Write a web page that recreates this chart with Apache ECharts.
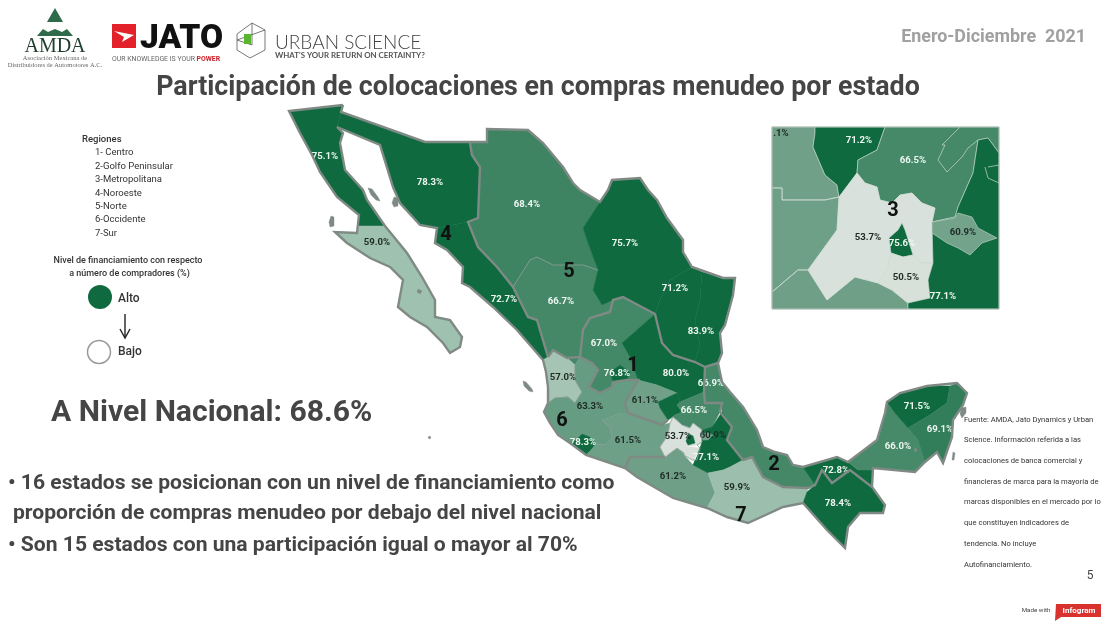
<!DOCTYPE html>
<html><head><meta charset="utf-8">
<style>html,body{margin:0;padding:0;background:#fff}#c{width:1117px;height:626px}</style>
<script src="https://cdn.jsdelivr.net/npm/echarts@6/dist/echarts.min.js"></script>
</head><body><div id="c"></div>
<script>
// ---- data ----
const stateNames = ['Baja California','Baja California Sur','Sonora','Sinaloa','Chihuahua','Durango','Coahuila','Nuevo León','Tamaulipas','Zacatecas','Aguascalientes','San Luis Potosí','Nayarit','Jalisco','Colima','Michoacán','Guanajuato','Querétaro','Hidalgo','Veracruz','Guerrero','Estado de México','Ciudad de México','Morelos','Puebla','Tlaxcala','Oaxaca','Tabasco','Chiapas','Campeche','Yucatán','Quintana Roo'];
const stateValues = [75.1,59.0,78.3,72.7,68.4,66.7,75.7,71.2,83.9,67.0,76.8,80.0,57.0,63.3,78.3,61.5,61.1,71.2,66.5,66.9,61.2,53.7,75.6,50.5,77.1,60.9,59.9,72.8,78.4,66.0,71.5,69.1];
const unlabeledOnMain = ['Querétaro','Ciudad de México','Morelos'];
const insetNames = ['Guanajuato','Michoacán','Guerrero','Querétaro','Hidalgo','Estado de México','Ciudad de México','Morelos','Puebla','Tlaxcala'];
const regionList = ['1- Centro','2-Golfo Peninsular','3-Metropolitana','4-Noroeste','5-Norte','6-Occidente','7-Sur'];
const regionNumbers = [['1',633,364],['2',774,463],['3',893,209],['4',446,233],['5',569,270],['6',562,419],['7',741,514]];
const sourceLines = ['Fuente: AMDA, Jato Dynamics y Urban','Science. Información referida a las','colocaciones de banca comercial y','financieras de marca para la mayoría de','marcas disponibles en el mercado por lo','que constituyen indicadores de','tendencia. No incluye','Autofinanciamiento.'];
const colorStops = [[50,'#d8e0da'],[54,'#d8e1db'],[57,'#a6c4b4'],[60,'#9cbfad'],[61,'#70a088'],[63.3,'#659c82'],[66,'#478a6a'],[68.5,'#3e8463'],[71,'#0f6a3f'],[84,'#0f6a3f']];

// ---- map geometry (outlines of the states) ----
const outlines = {
'Baja California':[[289,111],[343,105],[341,112],[337,127],[343,133],[340,143],[345,170],[363,190],[367,200],[385,226],[359,226],[359,215],[337,197],[320,172],[312,155],[300,133]],
'Baja California Sur':[[359,226],[385,226],[407,253],[422,277],[435,300],[435,317],[450,320],[462,337],[460,347],[450,353],[443,343],[427,327],[410,317],[398,307],[403,280],[390,267],[370,258],[347,243],[335,232],[357,233]],
'Sonora':[[341,112],[425,142],[470,143],[472,155],[480,167],[478,218],[468,222],[437,228],[420,225],[400,203],[393,187],[380,145],[337,127]],
'Sinaloa':[[468,222],[478,247],[497,267],[513,287],[528,317],[537,320],[548,357],[543,360],[517,330],[493,307],[470,287],[462,283],[463,267],[447,250],[435,243],[437,228]],
'Chihuahua':[[470,143],[487,142],[487,129],[528,130],[543,143],[563,167],[573,183],[580,190],[600,202],[583,228],[588,243],[598,270],[583,265],[553,265],[537,257],[530,260],[513,287],[497,267],[478,247],[468,222],[478,218],[480,167],[472,155]],
'Durango':[[513,287],[530,260],[537,257],[553,265],[583,265],[598,270],[593,290],[602,305],[613,300],[610,312],[590,318],[583,330],[580,357],[575,365],[567,358],[553,350],[548,357],[537,320],[528,317]],
'Coahuila':[[583,228],[600,202],[608,190],[612,180],[640,178],[648,190],[657,200],[667,218],[683,240],[683,252],[692,267],[670,280],[660,300],[655,314],[623,297],[613,300],[602,305],[593,290],[598,270],[588,243]],
'Nuevo León':[[692,267],[702,272],[700,300],[695,320],[700,345],[695,362],[673,355],[662,343],[655,314],[660,300],[670,280]],
'Tamaulipas':[[702,272],[723,278],[735,278],[733,295],[725,325],[720,333],[722,353],[718,363],[705,367],[695,362],[700,345],[695,320],[700,300]],
'Zacatecas':[[613,300],[623,297],[655,314],[622,343],[630,357],[638,380],[627,380],[630,372],[620,365],[610,372],[613,382],[612,387],[600,393],[589,387],[598,370],[592,363],[580,357],[583,330],[590,318],[610,312]],
'Aguascalientes':[[610,372],[620,365],[630,372],[627,380],[613,382]],
'San Luis Potosí':[[655,314],[662,343],[673,355],[695,362],[705,367],[704,392],[680,402],[677,393],[657,385],[638,380],[630,357],[622,343]],
'Nayarit':[[543,360],[548,357],[553,350],[567,358],[575,365],[575,380],[582,392],[575,403],[568,397],[555,398],[548,403],[548,387],[546,372]],
'Jalisco':[[575,365],[580,357],[592,363],[598,370],[589,387],[600,393],[612,387],[613,382],[627,380],[638,380],[625,403],[628,413],[622,413],[602,420],[610,427],[612,438],[605,445],[596,444],[590,437],[582,434],[576,440],[570,443],[558,435],[550,423],[544,412],[548,403],[555,398],[568,397],[575,403],[582,392],[575,380]],
'Colima':[[582,434],[590,437],[596,444],[591,450],[586,455],[570,443],[576,440]],
'Michoacán':[[602,420],[622,413],[628,413],[648,420],[662,425],[670,423],[668,435],[660,447],[665,457],[655,457],[630,457],[625,468],[586,455],[591,450],[596,444],[605,445],[612,438],[610,427]],
'Guanajuato':[[638,380],[657,385],[677,393],[658,402],[660,408],[668,420],[662,425],[648,420],[628,413],[625,403]],
'Querétaro':[[658,402],[677,393],[680,402],[677,405],[682,412],[675,415],[668,420],[660,408]],
'Hidalgo':[[677,405],[680,402],[704,392],[705,403],[722,403],[720,412],[712,427],[702,430],[693,423],[690,428],[682,425],[673,417],[668,420],[675,415],[682,412]],
'Veracruz':[[718,363],[722,382],[730,392],[743,407],[757,430],[763,447],[775,452],[787,455],[793,465],[803,467],[815,485],[808,488],[783,487],[763,477],[752,457],[743,460],[727,440],[732,427],[722,412],[722,403],[705,403],[704,392],[705,367]],
'Guerrero':[[630,457],[655,457],[665,457],[677,448],[684,453],[684,455],[693,465],[708,473],[715,493],[707,508],[673,498],[637,477],[625,468]],
'Estado de México':[[673,417],[682,425],[690,428],[693,423],[702,430],[702,442],[697,445],[685,447],[684,453],[677,448],[665,457],[660,447],[668,435],[670,423]],
'Ciudad de México':[[689,434],[693,436],[695,443],[688,445],[686,441]],
'Morelos':[[685,447],[693,447],[700,448],[697,460],[692,460],[684,455]],
'Puebla':[[722,412],[732,427],[727,440],[743,460],[730,467],[723,470],[708,473],[693,465],[700,448],[702,442],[702,430],[712,427]],
'Tlaxcala':[[702,435],[707,432],[713,435],[708,440],[703,440]],
'Oaxaca':[[708,473],[723,470],[730,467],[743,460],[752,457],[763,477],[783,487],[808,488],[807,492],[803,503],[783,507],[770,513],[748,523],[727,517],[707,508],[715,493]],
'Tabasco':[[803,467],[837,457],[848,462],[858,470],[872,470],[872,487],[850,470],[832,483],[822,470],[815,485]],
'Chiapas':[[807,492],[815,485],[822,470],[832,483],[850,470],[872,487],[885,505],[883,513],[860,513],[848,527],[845,548],[827,530],[803,503]],
'Campeche':[[887,402],[895,413],[908,428],[918,440],[925,462],[915,472],[873,468],[872,470],[858,470],[848,462],[860,453],[877,440],[885,413]],
'Yucatán':[[887,402],[900,393],[927,386],[950,386],[947,403],[930,415],[908,428],[895,413]],
'Quintana Roo':[[930,415],[947,403],[950,386],[957,383],[967,393],[963,405],[953,420],[952,437],[943,463],[937,452],[925,462],[918,440],[908,428]]
};
const insetOutlines = {
'Guanajuato':[[772,127],[815,127],[815,133],[813,147],[825,175],[837,185],[839,197],[825,200],[798,200],[782,200],[782,188],[772,188]],
'Michoacán':[[772,188],[782,188],[782,200],[798,200],[825,200],[839,197],[837,230],[808,270],[798,270],[772,292]],
'Guerrero':[[772,292],[798,270],[808,270],[827,300],[855,277],[878,283],[892,290],[908,303],[908,309],[772,309]],
'Querétaro':[[815,127],[885,127],[877,150],[858,160],[857,173],[839,197],[837,185],[825,175],[813,147],[815,133]],
'Hidalgo':[[885,127],[999,127],[999,153],[988,138],[978,140],[973,173],[958,207],[955,217],[932,222],[935,208],[922,203],[912,193],[900,195],[892,203],[880,200],[877,187],[865,183],[857,173],[858,160],[877,150]],
'Estado de México':[[857,173],[865,183],[877,187],[880,200],[892,203],[900,195],[912,193],[922,203],[935,208],[932,222],[933,263],[922,263],[913,255],[903,257],[891,253],[888,267],[878,283],[855,277],[827,300],[808,270],[837,230],[839,197]],
'Ciudad de México':[[902,223],[905,230],[913,255],[903,257],[891,253],[889,238],[898,230]],
'Morelos':[[891,253],[903,257],[913,255],[922,263],[933,263],[928,280],[930,298],[908,303],[892,290],[878,283],[888,267]],
'Puebla':[[978,140],[988,138],[999,153],[999,309],[908,309],[908,303],[930,298],[928,280],[933,263],[932,222],[955,217],[958,207],[973,173]],
'Tlaxcala':[[932,222],[955,218],[958,213],[972,217],[978,228],[997,238],[982,243],[970,255],[958,248],[947,243],[932,233]]
};
const islands = [
[[331,216],[334,217],[334,226],[330,227],[329,222]],
[[368,188],[372,189],[378,197],[380,201],[376,200],[371,195]],
[[394,197],[398,198],[398,206],[394,207],[392,203]],
[[961,408],[966,407],[966,413],[962,418],[960,414]],
[[523,381],[526,382],[532,389],[533,392],[529,391],[524,386]],
[[429,436],[431,437],[430,439],[428,438]],
[[418,289],[422,291],[420,294],[417,292]],
[[915,448],[917,449],[916,452],[914,451]],
[[953,452],[955,453],[954,460],[952,460]]
];
const labelAnchors = {'Baja California':[325,157],'Baja California Sur':[377,243],'Sonora':[430,183],'Sinaloa':[504,300],'Chihuahua':[527,205],'Durango':[561,302],'Coahuila':[625,244],'Nuevo León':[675,289],'Tamaulipas':[701,332],'Zacatecas':[604,344],'Aguascalientes':[617,374],'San Luis Potosí':[676,374],'Nayarit':[563,378],'Jalisco':[590,407],'Colima':[583,443],'Michoacán':[628,441],'Guanajuato':[645,401],'Hidalgo':[694,411],'Veracruz':[711,384],'Guerrero':[673,477],'Estado de México':[678,437],'Puebla':[706,458],'Tlaxcala':[713,436],'Oaxaca':[737,488],'Tabasco':[836,471],'Chiapas':[838,504],'Campeche':[898,447],'Yucatán':[917,407],'Quintana Roo':[940,430]};
const insetAnchors = {'Guanajuato':[781,134],'Querétaro':[859,141],'Hidalgo':[913,161],'Estado de México':[868,238],'Ciudad de México':[902,244],'Morelos':[906,278],'Tlaxcala':[963,233],'Puebla':[943,297]};
const coastLines = [
[[343,105],[289,111],[300,133],[312,155],[320,172],[337,197],[359,215],[357,233],[335,232],[347,243],[370,258],[390,267],[403,280],[398,307],[410,317],[427,327],[443,343],[450,353],[460,347],[462,337],[450,320],[435,317],[435,300],[422,277],[407,253],[385,226],[367,200],[363,190],[345,170],[340,143],[343,133],[337,127]],
[[343,105],[341,112],[425,142],[487,142],[487,129],[528,130],[543,143],[563,167],[573,183],[580,190],[600,202],[608,190],[612,180],[640,178],[648,190],[657,200],[667,218],[683,240],[683,252],[692,267],[723,278],[735,278],[733,295],[725,325],[720,333],[722,353],[718,363],[722,382],[730,392],[743,407],[757,430],[763,447],[775,452],[787,455],[793,465],[803,467],[837,457],[848,462],[860,453],[877,440],[885,413],[887,402],[900,393],[927,386],[957,383],[967,393],[963,405],[953,420],[952,437],[943,463],[937,452],[925,462],[915,472],[873,468],[872,487],[885,505],[883,513],[860,513],[848,527],[845,548],[827,530],[803,503],[783,507],[770,513],[748,523],[727,517],[707,508],[673,498],[637,477],[625,468],[586,455],[570,443],[558,435],[550,423],[544,412],[548,403],[548,387],[546,372],[543,360],[517,330],[493,307],[470,287],[462,283],[463,267],[447,250],[435,243],[437,228],[420,225],[400,203],[393,187],[380,145],[337,127]],
[[470,143],[472,155],[480,167],[478,218],[468,222],[478,247],[497,267],[513,287],[528,317],[537,320],[548,357]],
[[548,357],[553,350],[567,358],[580,357],[583,330],[590,318],[610,312],[613,300],[623,297],[655,314],[662,343],[673,355],[695,362],[705,367],[718,363]],
[[580,357],[592,363],[598,370],[589,387],[600,393],[612,387],[613,382],[627,380],[638,380],[625,403],[628,413],[648,420],[662,425],[668,420]],
[[625,468],[630,457],[655,457],[665,457]],
[[705,367],[704,392],[705,403],[722,403],[720,412],[732,427],[727,440],[743,460],[752,457],[763,477],[783,487],[808,488],[815,485],[822,470],[832,483],[850,470],[872,487]]
];
const softLines = [
[[673,417],[682,425],[690,428],[693,423],[702,430],[702,442],[697,445],[700,448],[697,460],[692,460],[684,455],[684,453],[677,448],[665,457],[660,447],[668,435],[670,423],[673,417]],
[[513,287],[530,260],[537,257],[553,265],[583,265],[598,270]],
[[548,403],[555,398],[568,397],[575,403],[582,392],[575,380],[575,365]],
[[602,420],[610,427],[612,438],[605,445],[596,444]]
];
const insetThinLines = [
[[772,188],[782,188],[782,200],[825,200],[839,197]],
[[960,127],[950,137],[942,145],[945,145],[938,160],[947,172],[962,157],[968,148],[978,140]],
[[772,292],[798,270],[808,270]],
[[988,167],[999,165],[999,183],[988,178],[985,167]]
];

// ---- helpers ----
function hex(c){return [1,3,5].map(i=>parseInt(c.substr(i,2),16));}
function shade(v){
  for(let i=0;i<colorStops.length-1;i++){
    const a=colorStops[i],b=colorStops[i+1];
    if(v<=b[0]){const t=Math.max(0,(v-a[0])/(b[0]-a[0]));const x=hex(a[1]),y=hex(b[1]);
      return 'rgb('+x.map((q,k)=>Math.round(q+(y[k]-q)*t)).join(',')+')';}
  }
  return colorStops[colorStops.length-1][1];
}
const valueOf = n => stateValues[stateNames.indexOf(n)];
const feature=(name,ring,cp)=>({type:'Feature',properties:Object.assign({name},cp?{cp}:{}),geometry:{type:'Polygon',coordinates:[ring.concat([ring[0]])]}});
const features=[];
stateNames.forEach(n=>features.push(feature(n,outlines[n],labelAnchors[n])));
islands.forEach((r,i)=>features.push(feature('isla'+i,r)));
insetNames.forEach(n=>features.push(feature('rec '+n,insetOutlines[n],insetAnchors[n])));
echarts.registerMap('mx',{type:'FeatureCollection',features});

const labelColor=v=>v>=64.5?'#eef6f0':'#1f2a25';
const mapData=[];
stateNames.forEach((n,i)=>{const v=stateValues[i];
  mapData.push({name:n,value:v,itemStyle:{areaColor:shade(v),borderColor:shade(v),borderWidth:0.5},
    label:{show:!unlabeledOnMain.includes(n),color:labelColor(v)}});});
insetNames.forEach(n=>{const v=valueOf(n);const hasLabel=!!insetAnchors[n];
  mapData.push({name:'rec '+n,value:v,itemStyle:{areaColor:shade(v),borderColor:'#c9d8cf',borderWidth:0.6},
    label:{show:hasLabel,color:labelColor(v),formatter:n==='Guanajuato'?'.1%':v.toFixed(1)+'%'}});});

// ---- static page text ----
const T=(text,x,y,size,weight,color,align,family)=>({type:'text',x,y:y+size*0.1,silent:true,z:50,style:{text,fontSize:size,fontWeight:weight,fill:color,align:align||'left',verticalAlign:'middle',fontFamily:family||'Roboto'}});
const graphic=[];
graphic.push(T('Participación de colocaciones en compras menudeo por estado',538,86,26.8,700,'#454545','center'));
graphic.push(T('Enero-Diciembre  2021',1086,36,17.9,700,'#a0a0a0','right'));
graphic.push(T('Regiones',82,139,9.5,500,'#333'));
regionList.forEach((r,i)=>graphic.push(T(r,95,152+i*13.4,9.5,400,'#333')));
graphic.push(T('Nivel de financiamiento con respecto',128,260,9,500,'#333','center'));
graphic.push(T('a número de compradores (%)',129.5,273,9,500,'#333','center'));
graphic.push({type:'circle',shape:{cx:100,cy:297,r:12},style:{fill:'#0f6a3f'},silent:true,z:50});
graphic.push(T('Alto',118,298,12,500,'#333'));
graphic.push({type:'polyline',shape:{points:[[125,314],[125,337]]},style:{stroke:'#222',lineWidth:1.4,fill:null},silent:true,z:50});
graphic.push({type:'polyline',shape:{points:[[120,329],[125,338],[130,329]]},style:{stroke:'#222',lineWidth:1.4,fill:null},silent:true,z:50});
graphic.push({type:'circle',shape:{cx:99,cy:352,r:11.5},style:{fill:'#fff',stroke:'#999',lineWidth:1.5},silent:true,z:50});
graphic.push(T('Bajo',118,351,12,500,'#333'));
graphic.push(T('A Nivel Nacional: 68.6%',51,410,30.1,700,'#454545'));
graphic.push(T('• 16 estados se posicionan con un nivel de financiamiento como',8,482,21.1,700,'#454545'));
graphic.push(T('proporción de compras menudeo por debajo del nivel nacional',13,512,21.1,700,'#454545'));
graphic.push(T('• Son 15 estados con una participación igual o mayor al 70%',8,544,21.1,700,'#454545'));
sourceLines.forEach((s,i)=>graphic.push(T(s,964,419+i*20.7,7.6,400,'#333')));
graphic.push(T('5',1090,575,12,400,'#444','center'));
graphic.push(T('Made with',1036,609.5,6.2,400,'#444','center'));
graphic.push({type:'polygon',shape:{points:[[1056,604],[1101,604],[1101,617],[1061,617],[1055,621]]},style:{fill:'#d9322e'},silent:true,z:50});
graphic.push(T('Infogram',1079,610.5,8,700,'#fff','center'));
regionNumbers.forEach(r=>graphic.push(T(r[0],r[1],r[2],20,700,'#111','center')));
// inset frame
graphic.push({type:'rect',shape:{x:772,y:127,width:227,height:182},style:{fill:null,stroke:'#9fb5a9',lineWidth:1},silent:true,z:40});
// logos
const G='#2f6b4a';
graphic.push({type:'polygon',shape:{points:[[55,8],[63,22],[47,22]]},style:{fill:G},silent:true,z:50});
graphic.push({type:'polygon',shape:{points:[[37,36],[43,29],[48,32],[55,29],[62,32],[67,29],[73,36]]},style:{fill:G},silent:true,z:50});
graphic.push(T('AMDA',55,45,20,400,'#1e3d2c','center','Liberation Serif'));
graphic.push(T('Asociación Mexicana de',55,58,6.5,400,'#666','center','Liberation Serif'));
graphic.push(T('Distribuidores de Automotores A.C.',55,65,6.5,400,'#666','center','Liberation Serif'));
graphic.push({type:'rect',shape:{x:112,y:24,width:24,height:24},style:{fill:'#e3212a'},silent:true,z:50});
graphic.push({type:'polygon',shape:{points:[[114,31],[134,35],[122,42],[124,37]]},style:{fill:'#fff'},silent:true,z:50});
graphic.push(T('JATO',140,36,33.5,900,'#111','left','Roboto'));
graphic.push({type:'text',x:112,y:59,silent:true,z:50,style:{rich:{a:{fontSize:6.9,fill:'#666',fontFamily:'Roboto'},b:{fontSize:6.9,fill:'#d02028',fontWeight:700,fontFamily:'Roboto'}},text:'{a|OUR KNOWLEDGE IS YOUR }{b|POWER}',verticalAlign:'middle'}});
graphic.push({type:'polyline',shape:{points:[[252,23],[265,30],[265,50],[250,58],[237,50],[237,34],[252,23],[252,45],[237,40],[265,30]]},style:{stroke:'#555',lineWidth:0.8,fill:null},silent:true,z:50});
graphic.push({type:'rect',shape:{x:244,y:34,width:7,height:10},style:{fill:'#5cb531'},silent:true,z:50});
graphic.push(T('URBAN SCIENCE',275,40.5,19,300,'#444','left','Lato'));
graphic.push(T('WHAT\'S YOUR RETURN ON CERTAINTY?',275,55,7.9,700,'#555','left','Lato'));

const toLines=a=>a.map(c=>({coords:c}));
const identity={project:p=>p,unproject:p=>p};
const frame={projection:identity,boundingCoords:[[0,0],[1117,626]],left:0,top:0,width:1117,height:626,roam:false};
const chart=echarts.init(document.getElementById('c'));
chart.setOption({
  animation:false,backgroundColor:'#fff',
  geo:Object.assign({map:'mx',silent:true,z:0,itemStyle:{areaColor:'transparent',borderWidth:0},label:{show:false},emphasis:{disabled:true},select:{disabled:true}},frame),
  tooltip:{show:false},
  graphic:{elements:graphic},
  series:[
    Object.assign({type:'map',map:'mx',z:2,data:mapData,silent:true,selectedMode:false,
     label:{show:false,fontSize:9.6,fontWeight:700,fontFamily:'Roboto',formatter:p=>p.value.toFixed(1)+'%'},
     itemStyle:{areaColor:'#7f8a85',borderColor:'#7f8a85',borderWidth:0.4},emphasis:{disabled:true}},frame),
    {type:'lines',coordinateSystem:'geo',polyline:true,silent:true,z:3,data:toLines(coastLines),lineStyle:{color:'#7f8a85',width:2.4,opacity:1,curveness:0}},
    {type:'lines',coordinateSystem:'geo',polyline:true,silent:true,z:3,data:toLines(softLines),lineStyle:{color:'#8f9a94',width:1,opacity:0.8,curveness:0}},
    {type:'lines',coordinateSystem:'geo',polyline:true,silent:true,z:3,data:toLines(insetThinLines),lineStyle:{color:'#c4d6cb',width:0.8,opacity:0.9,curveness:0}}
  ]
});
</script></body></html>
